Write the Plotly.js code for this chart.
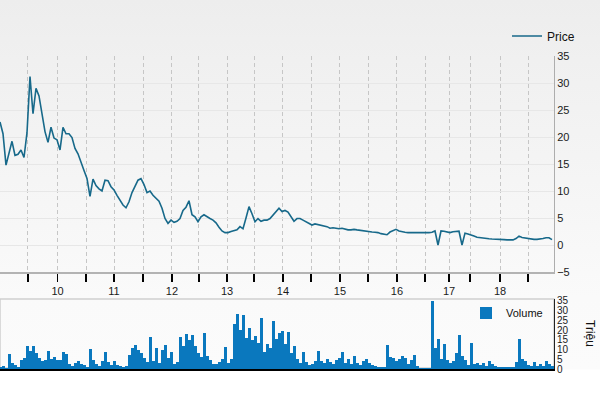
<!DOCTYPE html>
<html><head><meta charset="utf-8">
<script src="https://cdn.plot.ly/plotly-3.0.1.min.js"></script>
<style>
html,body{margin:0;padding:0;background:#fff;}
#chart{width:600px;height:393px;background:linear-gradient(to bottom,#ededed 0px,#f0f0f0 60px,#f5f5f5 180px,#f9f9f9 272px,#fafafa 298px,#fbfbfb 369px,#ffffff 370px);}
</style></head><body><div id="chart"></div>
<script>
// Price (sampled trading periods, oldest first)
const price = [
22.8,20.6,14.8,16.8,19.2,16.6,16.8,17.6,16.2,20.8,
31.2,24.3,29.0,27.6,24.6,21.0,19.0,21.8,19.8,19.5,
17.6,21.8,20.6,20.6,19.9,17.9,16.9,15.2,13.8,12.3,
9.0,12.2,11.0,10.4,10.0,12.0,11.9,10.8,10.2,9.2,
8.3,7.4,6.9,8.0,9.7,11.0,12.0,12.3,11.2,9.7,
10.0,9.2,8.7,8.1,6.8,4.9,4.0,4.6,4.2,4.4,
4.9,6.4,7.0,8.2,5.6,5.2,4.3,5.2,5.6,5.2,
4.9,4.6,4.1,3.3,2.6,2.3,2.3,2.5,2.6,2.8,
3.4,3.0,5.0,7.1,5.8,4.3,4.9,4.4,4.6,4.6,
4.9,5.6,6.3,6.8,6.2,6.4,6.1,5.2,4.4,4.9,
4.9,4.6,4.3,4.1,3.7,3.9,3.8,3.6,3.5,3.4,
3.1,3.2,3.1,3.0,3.1,2.9,2.8,2.8,2.9,2.8,
2.7,2.65,2.5,2.5,2.4,2.35,2.3,2.1,2.0,1.9,
2.4,2.6,2.9,2.6,2.45,2.35,2.3,2.3,2.3,2.25,
2.2,2.2,2.25,2.3,2.35,2.6,0.0,2.6,2.55,2.4,
2.3,2.45,2.5,2.55,0.0,2.2,2.05,1.9,1.65,1.45,
1.35,1.25,1.2,1.15,1.1,1.1,1.05,1.05,1.0,0.95,
0.95,0.95,1.2,1.65,1.4,1.3,1.2,1.15,1.05,1.05,
1.1,1.2,1.35,1.35,1.0
];
// Volume in millions (Triệu)
const volume = [
0.8,1.5,0.7,7.8,3.0,2.2,1.2,4.5,5.5,12.0,
9.5,11.8,8.0,5.5,4.2,4.8,9.5,5.0,6.3,4.6,
4.4,9.0,7.8,2.5,1.5,3.0,4.0,2.8,2.0,1.2,
10.5,4.5,2.5,1.8,4.0,8.5,3.5,2.0,4.0,2.2,
1.5,1.0,1.8,7.0,11.0,12.4,10.0,8.0,5.5,3.5,
16.5,4.0,11.0,3.0,10.0,12.4,5.5,8.5,2.5,3.5,
16.7,12.0,18.0,15.0,17.5,12.0,8.0,6.0,18.4,6.5,
4.5,2.5,2.5,3.5,5.0,11.5,3.0,5.0,23.0,28.4,
20.0,27.8,16.0,21.0,15.0,17.0,13.5,26.0,9.0,13.0,
11.0,24.9,15.5,18.7,19.5,13.0,18.8,8.0,12.0,5.0,
3.0,9.0,3.5,2.0,2.5,4.0,9.5,4.0,3.0,5.0,
3.5,2.5,4.5,5.5,8.8,3.0,5.0,2.5,6.5,3.0,
2.0,4.0,5.0,3.0,2.0,1.5,1.2,1.0,1.0,12.5,
6.0,5.5,4.0,5.0,6.5,5.5,2.5,4.5,7.0,1.5,
0.5,0.5,0.5,0.6,35.0,11.0,15.3,5.0,13.0,4.5,
3.0,4.0,8.0,17.5,6.5,4.5,2.0,13.5,2.5,3.0,
2.0,3.0,1.5,4.0,2.5,1.5,1.0,1.0,0.8,1.0,
0.8,1.0,3.5,15.3,5.0,4.0,2.0,1.5,3.5,1.5,
2.5,1.5,4.0,2.5,1.5
];
const period = price.map((_, i) => i);
// Year boundaries (in sampled-period units) and labels
const yearTickPos = [19.17, 38, 57.33, 75.67, 94.33, 113.33, 132.33, 149.67, 166.67];
const yearLabels = ['10','11','12','13','14','15','16','17','18'];
const halfTickPos = [9.33, 28.67, 47.67, 66.33, 84.67, 103.67, 122.67, 141.67, 156.67, 176];

const tickVals = yearTickPos.concat(halfTickPos);
const tickText = yearLabels.concat(halfTickPos.map(() => ''));

const W = 600, H = 393;
const font = {family: 'Liberation Sans, Arial, sans-serif', size: 11, color: '#1a1a1a'};

const traces = [
  {x: period, y: price, type: 'scatter', mode: 'lines', name: 'Price',
   line: {color: '#17698a', width: 1.6}, xaxis: 'x', yaxis: 'y', legend: 'legend',
   hoverinfo: 'skip'},
  {x: period, y: volume, type: 'bar', name: 'Volume',
   marker: {color: '#0a78be', line: {width: 0}}, xaxis: 'x2', yaxis: 'y2', legend: 'legend2',
   hoverinfo: 'skip'}
];

const layout = {
  width: W, height: H,
  margin: {l: 0, r: W - 554, t: 0, b: 0, autoexpand: false},
  paper_bgcolor: 'rgba(0,0,0,0)', plot_bgcolor: 'rgba(0,0,0,0)',
  font: font,
  showlegend: true,
  bargap: 0,
  xaxis: {
    domain: [0, 1], range: [0, 554 / 3], anchor: 'y', automargin: false,
    tickmode: 'array', tickvals: tickVals, ticktext: tickText,
    ticks: 'outside', ticklen: 8, tickwidth: 1.5, tickcolor: '#000',
    showgrid: true, gridcolor: '#c6c6c6', griddash: '4px,3px', gridwidth: 1,
    showline: true, linecolor: '#b3b3b3', linewidth: 2,
    zeroline: false, tickfont: {size: 11, color: '#1a1a1a'}, fixedrange: true
  },
  yaxis: {
    domain: [(H - 272) / H, (H - 56) / H], range: [-5, 35], side: 'right', automargin: false,
    tickmode: 'linear', tick0: 0, dtick: 5, ticks: '',
    showgrid: true, gridcolor: '#e7e7e7', gridwidth: 1, zeroline: false,
    showline: true, linecolor: '#adadad', linewidth: 1,
    tickfont: {size: 11, color: '#1a1a1a'}, fixedrange: true
  },
  xaxis2: {
    domain: [0, 1], range: [0, 554 / 3], anchor: 'y2', automargin: false,
    showticklabels: false, ticks: '', showgrid: false, zeroline: false,
    showline: true, linecolor: '#000', linewidth: 2, fixedrange: true
  },
  yaxis2: {
    domain: [(H - 369) / H, (H - 299) / H], range: [0, 36], side: 'right', anchor: 'x2', automargin: false,
    tickmode: 'linear', tick0: 0, dtick: 5, ticks: '',
    showgrid: false, zeroline: false,
    showline: true, linecolor: '#222', linewidth: 1,
    tickfont: {size: 10, color: '#1a1a1a'}, fixedrange: true
  },
  legend: {
    x: 507 / W, y: 1 - 36 / H, xanchor: 'left', yanchor: 'middle', xref: 'container', yref: 'container',
    bgcolor: 'rgba(0,0,0,0)', borderwidth: 0, font: {size: 12, color: '#111'},
    itemwidth: 30, tracegroupgap: 0
  },
  legend2: {
    x: 466 / W, y: 1 - 313 / H, xanchor: 'left', yanchor: 'middle', xref: 'container', yref: 'container',
    bgcolor: 'rgba(0,0,0,0)', borderwidth: 0, font: {size: 11, color: '#111'},
    itemwidth: 30
  },
  shapes: [
    {type: 'rect', xref: 'x2 domain', yref: 'paper', x0: 0, x1: 1,
     y0: (H - 368) / H, y1: (H - 299) / H, line: {color: '#cfcfcf', width: 1.5},
     fillcolor: 'rgba(0,0,0,0)', layer: 'below'}
  ],
  annotations: [
    {text: 'Triệu', xref: 'paper', yref: 'paper', x: 590 / 554, y: 1 - 333 / H,
     showarrow: false, textangle: 90, font: {size: 12, color: '#111'},
     xanchor: 'center', yanchor: 'middle'}
  ]
};

Plotly.newPlot('chart', traces, layout, {staticPlot: true, displayModeBar: false});
</script>
</body></html>
